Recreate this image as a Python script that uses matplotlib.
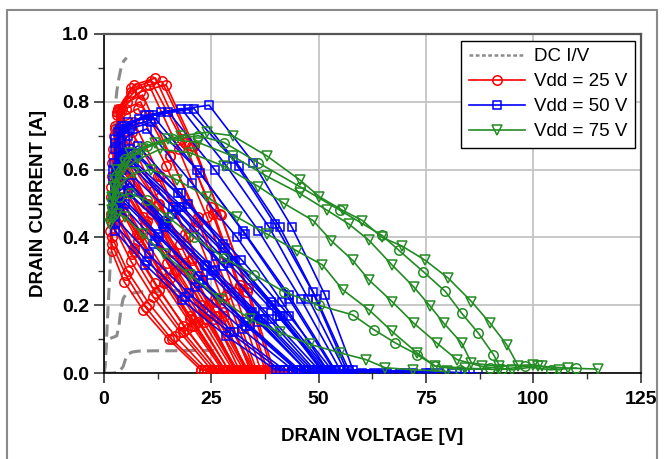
import matplotlib
matplotlib.use('Agg')
import matplotlib.pyplot as plt
from matplotlib.patches import Rectangle

plt.rcParams['font.family'] = ['Liberation Sans', 'DejaVu Sans']

# DC I/V curves
dc_v = [
    [0, 0.3, 0.8, 1.2, 1.5, 1.7, 1.9, 2.2, 2.6, 3.0, 3.5, 4.0, 4.6, 5.3],
    [0, 0.3, 0.6, 1.0, 2.0, 3.0, 3.5, 4.0, 4.5, 5.0, 6.0, 9.0, 13.0, 18.0],
    [0, 2.0, 3.5, 4.5, 5.0, 5.5, 6.5, 8.0, 12.0, 16.0, 20.0, 25.0, 27.0],
]
dc_i = [
    [0, 0.02, 0.15, 0.25, 0.33, 0.45, 0.60, 0.70, 0.78, 0.83, 0.87, 0.90, 0.92, 0.93],
    [0, 0.05, 0.09, 0.10, 0.105, 0.11, 0.14, 0.19, 0.22, 0.23, 0.235, 0.24, 0.24, 0.245],
    [0, 0.0, 0.003, 0.02, 0.04, 0.055, 0.062, 0.065, 0.066, 0.066, 0.067, 0.067, 0.067],
]

# Vdd = 25 V load lines
red_v = [
    [22.5, 15.1, 9.2, 4.7, 1.8, 1.5, 2.5, 3.5, 7.0, 12.0, 18.5, 26.5, 29.5, 22.5],
    [23.2, 15.8, 9.7, 5.1, 1.85, 1.55, 2.6, 3.7, 7.7, 13.2, 20.0, 28.2, 31, 23.2],
    [24, 16.6, 10.5, 5.5, 1.9, 1.6, 2.7, 4.0, 8.1, 13.5, 20.1, 28, 31, 24],
    [25, 17.8, 11.5, 6.3, 2.0, 1.7, 3.0, 4.5, 9.1, 14.8, 21.4, 29, 32, 25],
    [25.8, 18.5, 12.1, 6.6, 2.05, 1.75, 3.1, 4.7, 9.9, 16.0, 22.9, 30.8, 34, 25.8],
    [26.5, 19.3, 12.8, 7.1, 2.1, 1.8, 3.3, 5.0, 10.3, 16.3, 23.0, 30.5, 33.5, 26.5],
    [27.5, 20.5, 13.9, 7.9, 2.3, 2.0, 3.8, 6.0, 11.6, 17.8, 24.4, 31.5, 34.5, 27.5],
    [28, 21.0, 14.4, 8.2, 2.4, 2.1, 4.0, 6.5, 12.5, 19.0, 25.8, 33, 37, 28],
    [29, 22.0, 15.3, 8.8, 2.5, 2.2, 4.3, 7.0, 13.1, 19.5, 26.1, 33, 36, 29],
    [30, 23.2, 16.4, 9.5, 2.7, 2.4, 4.8, 8.0, 14.5, 21.0, 27.5, 34, 37, 30],
    [30.5, 23.6, 16.7, 9.7, 2.8, 2.5, 5.1, 8.5, 15.3, 22.0, 28.8, 35.5, 39, 30.5],
    [31, 24, 17, 10, 3.0, 2.7, 5.4, 9.0, 15.5, 22.0, 28.5, 35, 38, 31],
    [32.5, 25.6, 18.4, 11.0, 3.3, 3.0, 6.2, 10.5, 17.4, 24.0, 30.4, 36.5, 40, 32.5],
    [33, 26.0, 18.7, 11.2, 3.4, 3.1, 6.4, 11.0, 18.1, 25.0, 31.6, 38, 42, 33],
    [33.5, 26.4, 19.0, 11.5, 3.6, 3.3, 7.0, 12.0, 18.8, 25.3, 31.5, 37.5, 41.5, 33.5],
    [34.5, 27.8, 20.5, 12.8, 4.5, 4.2, 8.5, 14.5, 21.0, 27.0, 33.5, 39.5, 44, 34.5],
    [35, 28, 20.5, 12.5, 4.0, 3.7, 7.8, 13.5, 20.6, 27.3, 33.4, 39, 43, 35],
]
red_i = [
    [0.01, 0.10, 0.185, 0.27, 0.36, 0.42, 0.44, 0.46, 0.37, 0.265, 0.14, 0.01, 0.0, 0.01],
    [0.01, 0.10, 0.195, 0.29, 0.38, 0.45, 0.47, 0.49, 0.41, 0.30, 0.17, 0.01, 0.0, 0.01],
    [0.01, 0.11, 0.205, 0.30, 0.40, 0.47, 0.50, 0.52, 0.41, 0.295, 0.16, 0.01, 0.0, 0.01],
    [0.01, 0.12, 0.225, 0.33, 0.44, 0.52, 0.56, 0.58, 0.46, 0.325, 0.17, 0.01, 0.0, 0.01],
    [0.01, 0.12, 0.235, 0.35, 0.46, 0.55, 0.59, 0.61, 0.50, 0.36, 0.20, 0.01, 0.0, 0.01],
    [0.01, 0.13, 0.245, 0.36, 0.48, 0.58, 0.62, 0.64, 0.50, 0.355, 0.19, 0.01, 0.0, 0.01],
    [0.01, 0.14, 0.265, 0.39, 0.52, 0.62, 0.67, 0.69, 0.54, 0.38, 0.20, 0.01, 0.0, 0.01],
    [0.01, 0.14, 0.27, 0.40, 0.53, 0.64, 0.69, 0.71, 0.58, 0.41, 0.22, 0.01, 0.0, 0.01],
    [0.01, 0.15, 0.28, 0.41, 0.55, 0.66, 0.72, 0.74, 0.58, 0.40, 0.21, 0.01, 0.0, 0.01],
    [0.01, 0.15, 0.295, 0.44, 0.58, 0.70, 0.76, 0.78, 0.61, 0.43, 0.22, 0.01, 0.0, 0.01],
    [0.01, 0.16, 0.30, 0.44, 0.59, 0.72, 0.78, 0.80, 0.64, 0.46, 0.25, 0.01, 0.0, 0.01],
    [0.01, 0.16, 0.305, 0.45, 0.60, 0.73, 0.80, 0.82, 0.64, 0.445, 0.23, 0.01, 0.0, 0.01],
    [0.01, 0.16, 0.315, 0.47, 0.62, 0.76, 0.83, 0.85, 0.66, 0.46, 0.24, 0.01, 0.0, 0.01],
    [0.01, 0.17, 0.32, 0.48, 0.63, 0.77, 0.84, 0.86, 0.69, 0.49, 0.26, 0.01, 0.0, 0.01],
    [0.01, 0.17, 0.325, 0.48, 0.64, 0.78, 0.85, 0.87, 0.68, 0.47, 0.25, 0.01, 0.0, 0.01],
    [0.01, 0.18, 0.34, 0.50, 0.67, 0.78, 0.83, 0.85, 0.67, 0.47, 0.25, 0.01, 0.0, 0.01],
    [0.01, 0.17, 0.335, 0.50, 0.66, 0.78, 0.84, 0.86, 0.67, 0.465, 0.24, 0.01, 0.0, 0.01],
]

# Vdd = 50 V load lines
blue_v = [
    [40, 28.4, 18.3, 9.6, 2.5, 2.2, 3.5, 5.0, 12.8, 22.0, 32.8, 45, 60, 40],
    [41, 29.3, 19.0, 10.0, 2.5, 2.2, 3.7, 5.5, 13.8, 23.5, 34.5, 47, 65, 41],
    [42, 30.3, 19.8, 10.5, 2.5, 2.2, 3.9, 6.0, 14.4, 24.0, 34.9, 47, 63, 42],
    [44, 32.1, 21.3, 11.4, 2.5, 2.2, 4.3, 7.0, 16.0, 26.0, 37.0, 49, 66, 44],
    [44.8, 33.1, 22.2, 12.0, 2.5, 2.2, 4.5, 7.5, 17.2, 27.7, 38.9, 50.8, 70, 44.8],
    [45.5, 34.0, 23.0, 12.6, 2.6, 2.3, 4.8, 8.0, 17.9, 28.3, 39.1, 50.5, 69, 45.5],
    [47, 36.0, 24.9, 13.9, 2.8, 2.5, 5.7, 10.0, 20.5, 31.0, 41.5, 52, 72, 47],
    [47.8, 36.6, 25.4, 14.1, 2.9, 2.6, 6.1, 11.0, 21.7, 32.4, 43.1, 53.8, 76, 47.8],
    [48.5, 37.1, 25.8, 14.4, 3.0, 2.7, 6.6, 12.0, 22.4, 32.8, 43.1, 53.5, 75, 48.5],
    [50, 39.1, 27.8, 15.9, 3.5, 3.2, 8.1, 15.0, 25.8, 36.0, 45.8, 55, 78, 50],
    [51, 40.4, 29.0, 16.9, 4.0, 3.7, 9.6, 18.0, 28.6, 38.5, 47.6, 56, 81, 51],
    [51.5, 41.1, 29.8, 17.6, 4.5, 4.2, 10.5, 19.5, 30.1, 39.8, 48.6, 56.5, 83, 51.5],
    [52, 41.8, 30.5, 18.3, 5.0, 4.7, 11.4, 21.0, 31.5, 41.0, 49.5, 57, 84, 52],
    [53, 43.1, 32.0, 19.6, 6.0, 5.7, 13.4, 24.5, 34.8, 43.8, 51.5, 58, 87, 53],
]
blue_i = [
    [0.01, 0.11, 0.215, 0.32, 0.42, 0.47, 0.48, 0.50, 0.40, 0.285, 0.15, 0.01, 0.0, 0.01],
    [0.01, 0.12, 0.225, 0.33, 0.44, 0.49, 0.51, 0.53, 0.44, 0.32, 0.18, 0.01, 0.0, 0.01],
    [0.01, 0.12, 0.235, 0.35, 0.46, 0.52, 0.54, 0.56, 0.44, 0.315, 0.17, 0.01, 0.0, 0.01],
    [0.01, 0.13, 0.255, 0.38, 0.50, 0.57, 0.60, 0.62, 0.49, 0.345, 0.18, 0.01, 0.0, 0.01],
    [0.01, 0.14, 0.265, 0.39, 0.52, 0.60, 0.63, 0.65, 0.53, 0.38, 0.21, 0.01, 0.0, 0.01],
    [0.01, 0.14, 0.275, 0.41, 0.54, 0.62, 0.65, 0.67, 0.53, 0.37, 0.20, 0.01, 0.0, 0.01],
    [0.01, 0.15, 0.29, 0.43, 0.57, 0.66, 0.70, 0.72, 0.56, 0.40, 0.21, 0.01, 0.0, 0.01],
    [0.01, 0.16, 0.30, 0.44, 0.59, 0.68, 0.72, 0.74, 0.60, 0.42, 0.23, 0.01, 0.0, 0.01],
    [0.01, 0.16, 0.305, 0.45, 0.60, 0.69, 0.73, 0.75, 0.59, 0.41, 0.22, 0.01, 0.0, 0.01],
    [0.01, 0.16, 0.315, 0.47, 0.62, 0.71, 0.75, 0.77, 0.60, 0.42, 0.22, 0.01, 0.0, 0.01],
    [0.01, 0.17, 0.325, 0.48, 0.64, 0.72, 0.76, 0.78, 0.61, 0.43, 0.22, 0.01, 0.0, 0.01],
    [0.01, 0.17, 0.33, 0.49, 0.645, 0.73, 0.76, 0.78, 0.63, 0.44, 0.24, 0.01, 0.0, 0.01],
    [0.01, 0.17, 0.33, 0.49, 0.65, 0.73, 0.76, 0.78, 0.61, 0.43, 0.22, 0.01, 0.0, 0.01],
    [0.01, 0.17, 0.335, 0.50, 0.66, 0.74, 0.77, 0.79, 0.62, 0.43, 0.23, 0.01, 0.0, 0.01],
]

# Vdd = 75 V load lines
green_v = [
    [2.5, 3.0, 6, 12, 18, 24, 30, 38, 45.6, 50.2, 55.6, 60.2, 64.8, 69.4, 74.8, 80.2, 85.6, 89.9, 93.8, 96.5, 102, 108, 115],
    [2.3, 2.8, 5, 10, 16, 22, 28, 36, 45.6, 55, 64.8, 68.7, 74.4, 79.5, 83.3, 87.2, 90.7, 92.6, 98, 104, 110],
    [2.0, 2.5, 5, 9, 15, 22, 30, 38, 45.6, 52, 57, 61.7, 67.1, 72.1, 76.0, 79.1, 83.3, 85.6, 92, 100, 106],
    [2.0, 2.4, 4.5, 8, 13, 20, 28, 36, 42, 48.7, 53, 57.9, 61.7, 67.1, 72.1, 77.5, 82.2, 88, 95, 101],
    [1.8, 2.2, 4, 7, 11, 17, 24, 31, 38, 45, 50.9, 55.6, 61.7, 67.1, 72.9, 77.1, 84, 92],
    [1.6, 2.0, 3.5, 6, 10, 15, 21, 28, 35, 42, 50, 57.9, 62.9, 67.9, 72.9, 77.1, 83, 90],
    [1.5, 1.8, 3, 5, 9, 14, 20, 27, 34, 41, 48, 55, 61, 65.5, 72, 80],
]
green_i = [
    [0.55, 0.60, 0.65, 0.68, 0.70, 0.71, 0.70, 0.64, 0.57, 0.52, 0.48, 0.45, 0.40, 0.375, 0.333, 0.28, 0.211, 0.148, 0.084, 0.021, 0.02, 0.015, 0.012],
    [0.53, 0.58, 0.63, 0.67, 0.69, 0.70, 0.68, 0.62, 0.55, 0.48, 0.406, 0.362, 0.299, 0.241, 0.177, 0.118, 0.055, 0.011, 0.02, 0.01, 0.015],
    [0.52, 0.57, 0.62, 0.66, 0.69, 0.68, 0.64, 0.58, 0.53, 0.48, 0.44, 0.392, 0.319, 0.255, 0.197, 0.148, 0.089, 0.03, 0.02, 0.025, 0.01],
    [0.50, 0.55, 0.60, 0.63, 0.66, 0.65, 0.61, 0.55, 0.50, 0.45, 0.39, 0.333, 0.275, 0.211, 0.148, 0.089, 0.04, 0.02, 0.01, 0.02],
    [0.48, 0.52, 0.56, 0.59, 0.60, 0.57, 0.52, 0.46, 0.41, 0.36, 0.319, 0.246, 0.187, 0.123, 0.06, 0.021, 0.015, 0.01],
    [0.46, 0.49, 0.52, 0.53, 0.51, 0.46, 0.40, 0.34, 0.29, 0.24, 0.20, 0.172, 0.128, 0.089, 0.055, 0.021, 0.01, 0.015],
    [0.44, 0.46, 0.47, 0.46, 0.41, 0.35, 0.29, 0.22, 0.16, 0.12, 0.085, 0.06, 0.04, 0.016, 0.01, 0.005],
]
green_marker = ['v', 'o', 'v', 'v', 'v', 'o', 'v']

fig = plt.figure(figsize=(6.66, 4.59), dpi=100)
ax = fig.add_axes([0.156, 0.187, 0.806, 0.739])

# rahmen um die ganze figur
fig.add_artist(Rectangle((7 / 666, -0.1), 650 / 666, 1.1 - 10 / 459, transform=fig.transFigure,
                         fill=False, edgecolor='#8a8a8a', lw=1.5))

# legend proxy for the DC curves (no data)
ax.plot([], [], color='#8c8c8c', lw=1.8, ls=(0, (1.5, 1)), label='DC I/V')
for k in range(len(dc_v)):
    ax.plot(dc_v[k], dc_i[k], color='#8c8c8c', lw=2.2, ls=(0, (4, 2)), zorder=2)

for k in range(len(red_v)):
    ax.plot(red_v[k], red_i[k], color='red', lw=1.2, marker='o', ms=6.8, mfc='none',
            mew=1.1, label='Vdd = 25 V' if k == 0 else None, zorder=3)

for k in range(len(blue_v)):
    ax.plot(blue_v[k], blue_i[k], color='blue', lw=1.2, marker='s', ms=6.2, mfc='none',
            mew=1.1, label='Vdd = 50 V' if k == 0 else None, zorder=4)

for k in range(len(green_v)):
    ax.plot(green_v[k], green_i[k], color='#238b23', lw=1.2, marker=green_marker[k], ms=6.8,
            mfc='none', mew=1.1, label='Vdd = 75 V' if k == 0 else None, zorder=5)

ax.set_xlim(0, 125)
ax.set_ylim(0, 1.0)
ax.set_xticks([0, 25, 50, 75, 100, 125])
ax.set_xticks([12.5, 37.5, 62.5, 87.5, 112.5], minor=True)
ax.set_yticks([0.0, 0.2, 0.4, 0.6, 0.8, 1.0])
ax.set_yticks([0.1, 0.3, 0.5, 0.7, 0.9], minor=True)
ax.set_yticklabels(['0.0', '0.2', '0.4', '0.6', '0.8', '1.0'])

ax.grid(True, which='major', color='#c4c4c4', lw=1.3)
ax.set_axisbelow(True)
ax.tick_params(which='major', direction='out', length=7, width=1.2, labelsize=14, color='#333333')
ax.tick_params(axis='x', which='major', pad=6)
ax.tick_params(which='minor', direction='out', length=4, width=1.0, color='#333333')
for lab in ax.get_xticklabels() + ax.get_yticklabels():
    lab.set_fontweight('bold')

for s in ['left', 'bottom']:
    ax.spines[s].set_color('black')
    ax.spines[s].set_linewidth(1.2)
for s in ['top', 'right']:
    ax.spines[s].set_color('#555555')
    ax.spines[s].set_linewidth(1.6)

ax.set_xlabel('DRAIN VOLTAGE [V]', fontsize=13.5, fontweight='bold', labelpad=14)
ax.set_ylabel('DRAIN CURRENT [A]', fontsize=13.5, fontweight='bold', labelpad=11)

leg = ax.legend(loc='upper right', bbox_to_anchor=(0.99, 0.98), fontsize=13.5,
                fancybox=False, edgecolor='black', framealpha=1, handlelength=3.0,
                handletextpad=0.5, borderpad=0.4, labelspacing=0.42, borderaxespad=0)
leg.get_frame().set_linewidth(1.0)

plt.savefig('out.png', dpi=100)
